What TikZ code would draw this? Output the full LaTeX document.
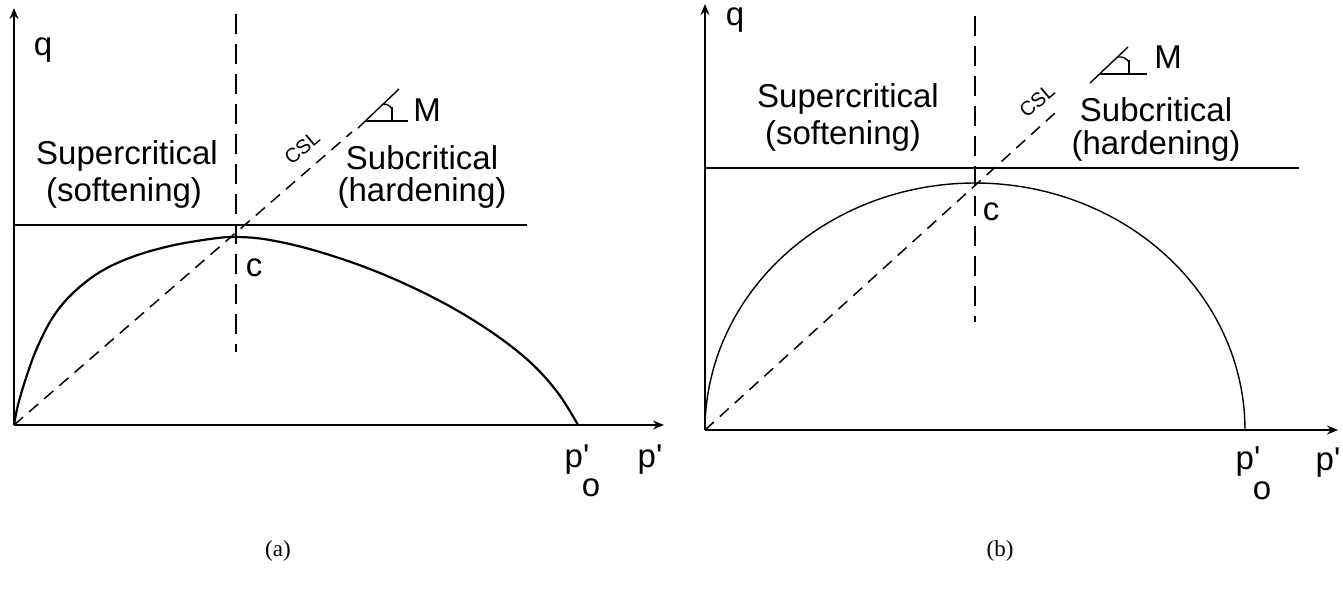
\documentclass[tikz,border=0pt]{standalone}
\usepackage{fontspec}
\setmainfont{Liberation Sans}
\newfontfamily\capfont{Liberation Serif}
\usetikzlibrary{arrows.meta}
\begin{document}
\begin{tikzpicture}[x=1pt,y=-1pt,
  lbl/.style={font=\fontsize{33}{36}\selectfont, inner sep=0pt},
  csllbl/.style={font=\fontsize{20}{22}\selectfont, inner sep=0pt, rotate=40},
  caplbl/.style={font=\capfont\fontsize{23}{25}\selectfont, inner sep=0pt},
  axis/.style={line width=1.8pt, -{Stealth[length=11pt,width=9pt]}},
  solidln/.style={line width=1.8pt},
  thinln/.style={line width=1.4pt},
  csldash/.style={line width=1.5pt, dash pattern=on 12pt off 8pt},
  vdash/.style={line width=1.8pt, dash pattern=on 20pt off 10pt}]
\useasboundingbox (0,0) rectangle (1343,590);

% ---------------- panel (a) ----------------
\coordinate (Oa) at (14,425);
\coordinate (Ya) at (14,8);
\coordinate (Xa) at (664,425);
\draw[axis] (Oa) -- (Ya);
\draw[axis] (Oa) -- (Xa);
\node[lbl] (qa) at (43,50) {q};
\coordinate (Ha1) at (14,225);
\coordinate (Ha2) at (527,225);
\draw[solidln] (Ha1) -- (Ha2);
\coordinate (Va1) at (236,14);
\coordinate (Va2) at (236,352);
\draw[vdash] (Va1) -- (Va2);
\coordinate (Ca) at (352,132);
\draw[csldash] (Oa) -- (Ca);
\draw[line width=2.2pt] plot[smooth, tension=0.6] coordinates {(14,425) (18,405) (26,378) (37,348) (53,317) (73,293) (100,272) (132,257) (170,246) (210,239) (236,237) (270,240) (320,252) (380,273) (440,301) (490,331) (530,362) (558,393) (578,425)};
\node[csllbl] (csla) at (302,148) {CSL};
% slope triangle (a)
\coordinate (Ta1) at (358,128);
\coordinate (Ta2) at (399,89);
\coordinate (Ta3) at (366,121);
\coordinate (Ta4) at (408,121);
\coordinate (Ta5) at (392,121);
\coordinate (Ta6) at (392,107);
\draw[thinln] (Ta1) -- (Ta2);
\draw[thinln] (Ta3) -- (Ta4);
\draw[thinln] (Ta5) -- (Ta6);
\draw[thinln] (383,104) to[bend left=30] (392,109);
\node[lbl] (Ma) at (427,110) {M};
\node[lbl] (supa) at (127,156) {Supercritical};
\node[lbl] (sofa) at (124,193) {(softening)};
\node[lbl] (suba) at (422,158) {Subcritical};
\node[lbl] (hara) at (422,193) {(hardening)};
\node[lbl] (ca) at (254,268) {c};
\node[lbl] (poa) at (577,460) {p\textquotesingle};
\node[lbl] (oa) at (591,488) {o};
\node[lbl] (pa) at (650,460) {p\textquotesingle};
\node[caplbl] (capa) at (278,551) {(a)};

% ---------------- panel (b) ----------------
\coordinate (Ob) at (705,430);
\coordinate (Yb) at (705,4);
\coordinate (Xb) at (1338,430);
\draw[axis] (Ob) -- (Yb);
\draw[axis] (Ob) -- (Xb);
\node[lbl] (qb) at (735,20) {q};
\coordinate (Hb1) at (705,168);
\coordinate (Hb2) at (1299,168);
\draw[solidln] (Hb1) -- (Hb2);
\coordinate (Vb1) at (975,16);
\coordinate (Vb2) at (975,322);
\draw[vdash] (Vb1) -- (Vb2);
\coordinate (Cb) at (1055,113);
\draw[csldash] (Ob) -- (Cb);
\draw[thinln] plot[smooth, domain=0:180, samples=73] ({975+270*cos(\x)},{430-247*sin(\x)});
\node[csllbl] (cslb) at (1037,101) {CSL};
% slope triangle (b)
\coordinate (Tb1) at (1090,83);
\coordinate (Tb2) at (1128,47);
\coordinate (Tb3) at (1100,74);
\coordinate (Tb4) at (1147,74);
\coordinate (Tb5) at (1129,74);
\coordinate (Tb6) at (1129,60);
\draw[thinln] (Tb1) -- (Tb2);
\draw[thinln] (Tb3) -- (Tb4);
\draw[thinln] (Tb5) -- (Tb6);
\draw[thinln] (1118,57) to[bend left=30] (1129,62);
\node[lbl] (Mb) at (1168,57) {M};
\node[lbl] (supb) at (848,99) {Supercritical};
\node[lbl] (sofb) at (843,136) {(softening)};
\node[lbl] (subb) at (1156,110) {Subcritical};
\node[lbl] (harb) at (1156,146) {(hardening)};
\node[lbl] (cb) at (991,212) {c};
\node[lbl] (pob) at (1248,462) {p\textquotesingle};
\node[lbl] (ob) at (1262,491) {o};
\node[lbl] (pb) at (1328,463) {p\textquotesingle};
\node[caplbl] (capb) at (1000,551) {(b)};
\end{tikzpicture}
\end{document}
